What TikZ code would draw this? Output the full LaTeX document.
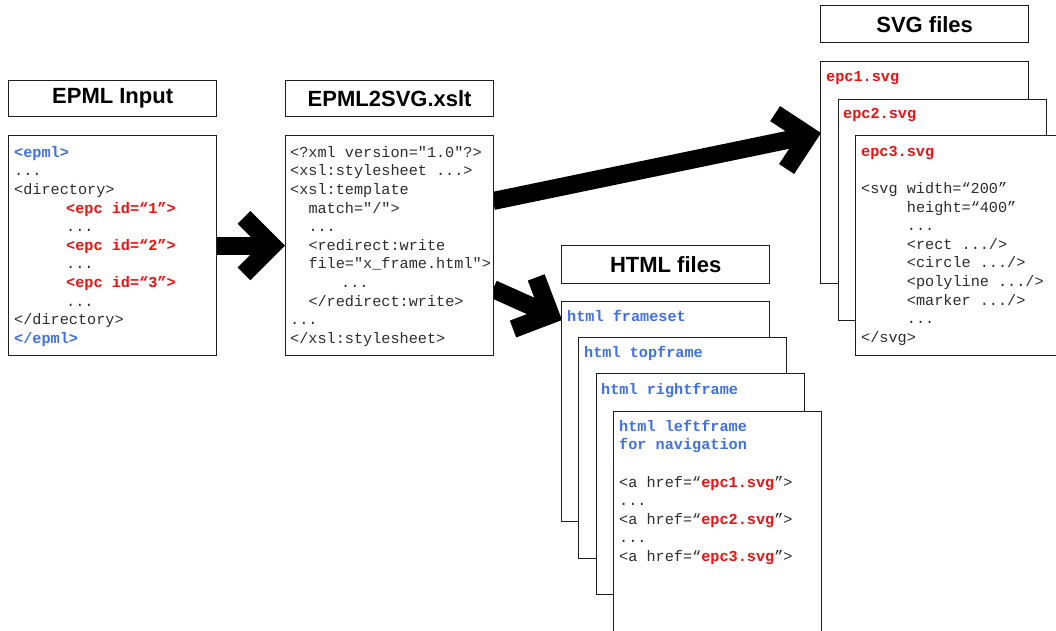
\documentclass[tikz,border=0pt]{standalone}
\usepackage{fontspec}
\setsansfont{Liberation Sans}
\setmonofont{Liberation Mono}
\usetikzlibrary{calc}
\definecolor{cblue}{RGB}{64,112,232}
\definecolor{cred}{RGB}{240,16,16}
\definecolor{cline}{RGB}{30,30,30}
\definecolor{codegray}{RGB}{45,45,45}
\newcommand\bl[1]{{\color{cblue}\bfseries #1}}
\newcommand\rd[1]{{\color{cred}\bfseries #1}}
\newcommand\ind[1]{\hspace*{#1pt}}
\newcommand\fatarrow[2]{%
  \coordinate (fa-v) at ($(#2)!12.7pt!(#1)$);
  \draw[fat] (#1) -- (fa-v);
  \draw[fat, line join=miter] ($(fa-v)!40pt!45:(#1)$) -- (fa-v) -- ($(fa-v)!40pt!-45:(#1)$);
}
\begin{document}
\begin{tikzpicture}[x=1pt,y=-1pt,
  frame/.style={draw=cline, line width=1.3pt, fill=white, inner sep=0pt, anchor=north west, minimum width=208pt},
  ttl/.style={frame, font=\sffamily\bfseries\fontsize{22}{26}\selectfont},
  code/.style={anchor=north west, inner sep=0pt, align=left, text=codegray, font=\ttfamily\fontsize{15.2}{18.6}\selectfont},
  fat/.style={line width=18pt, draw=black}]
\useasboundingbox (0,0) rectangle (1056,630);
\clip (0,0) rectangle (1056,630);

% connector end points
\coordinate (a2s) at (493,201);
\coordinate (a2e) at (821,133);
\coordinate (a3s) at (493,289);
\coordinate (a3e) at (562,320);

% titles
\node[ttl, minimum height=36pt] (t-epml) at (8,80) {EPML Input};
\node[ttl, minimum height=36pt] (t-xslt) at (285,80) {EPML2SVG.xslt};
\node[ttl, minimum height=38pt] (t-html) at (561,245) {HTML files};
\node[ttl, minimum height=37pt] (t-svg) at (820,5) {SVG files};

% main boxes
\node[frame, minimum height=220pt] (epmlbox) at (8,135) {};
\node[frame, minimum height=220pt] (xsltbox) at (285,135) {};

% arrows
\fatarrow{epmlbox.east}{xsltbox.west}
\fatarrow{a2s}{a2e}
\fatarrow{a3s}{a3e}

\node[frame, minimum height=220pt] (epmlbox2) at (8,135) {};
\node[frame, minimum height=220pt] (xsltbox2) at (285,135) {};

\node[code] (epmltext) at (14,144) {\strut\bl{<epml>}\\
...\\
<directory>\\
\ind{52}\rd{<epc id=“1”>}\\
\ind{52}...\\
\ind{52}\rd{<epc id=“2”>}\\
\ind{52}...\\
\ind{52}\rd{<epc id=“3”>}\\
\ind{52}...\\
</directory>\\
\bl{</epml>}};

\node[code] (xslttext) at (290,144) {\strut<?xml version="1.0"?>\\
<xsl:stylesheet ...>\\
<xsl:template\\
\ind{18.3}match="/">\\
\ind{18.3}...\\
\ind{18.3}<redirect:write\\
\ind{18.3}file="x\_frame.html">\\
\ind{51}...\\
\ind{18.3}</redirect:write>\\
...\\
</xsl:stylesheet>};

% SVG pages
\node[frame, minimum height=222pt] (svg1) at (820,61) {};
\node[code] (svg1t) at (826,68) {\strut\rd{epc1.svg}};
\node[frame, minimum height=221pt] (svg2) at (838,99) {};
\node[code] (svg2t) at (843,105) {\strut\rd{epc2.svg}};
\node[frame, minimum height=220pt] (svg3) at (855,135) {};
\node[code] (svg3t) at (861,143) {\strut\rd{epc3.svg}\\
\mbox{}\\
<svg width=“200”\\
\ind{45.7}height=“400”\\
\ind{45.7}...\\
\ind{45.7}<rect .../>\\
\ind{45.7}<circle .../>\\
\ind{45.7}<polyline .../>\\
\ind{45.7}<marker .../>\\
\ind{45.7}...\\
</svg>};

% HTML pages
\node[frame, minimum height=220pt] (html1) at (561,301) {};
\node[code] (html1t) at (567,308) {\strut\bl{html frameset}};
\node[frame, minimum height=221pt] (html2) at (578,337) {};
\node[code] (html2t) at (584,344) {\strut\bl{html topframe}};
\node[frame, minimum height=221pt] (html3) at (596,373) {};
\node[code] (html3t) at (601,381) {\strut\bl{html rightframe}};
\node[frame, minimum height=240pt] (html4) at (613,411) {};
\node[code] (html4t) at (619,418) {\strut\bl{html leftframe}\\
\bl{for navigation}\\
\mbox{}\\
<a href=“\rd{epc1.svg}”>\\
...\\
<a href=“\rd{epc2.svg}”>\\
...\\
<a href=“\rd{epc3.svg}”>};
\end{tikzpicture}
\end{document}
